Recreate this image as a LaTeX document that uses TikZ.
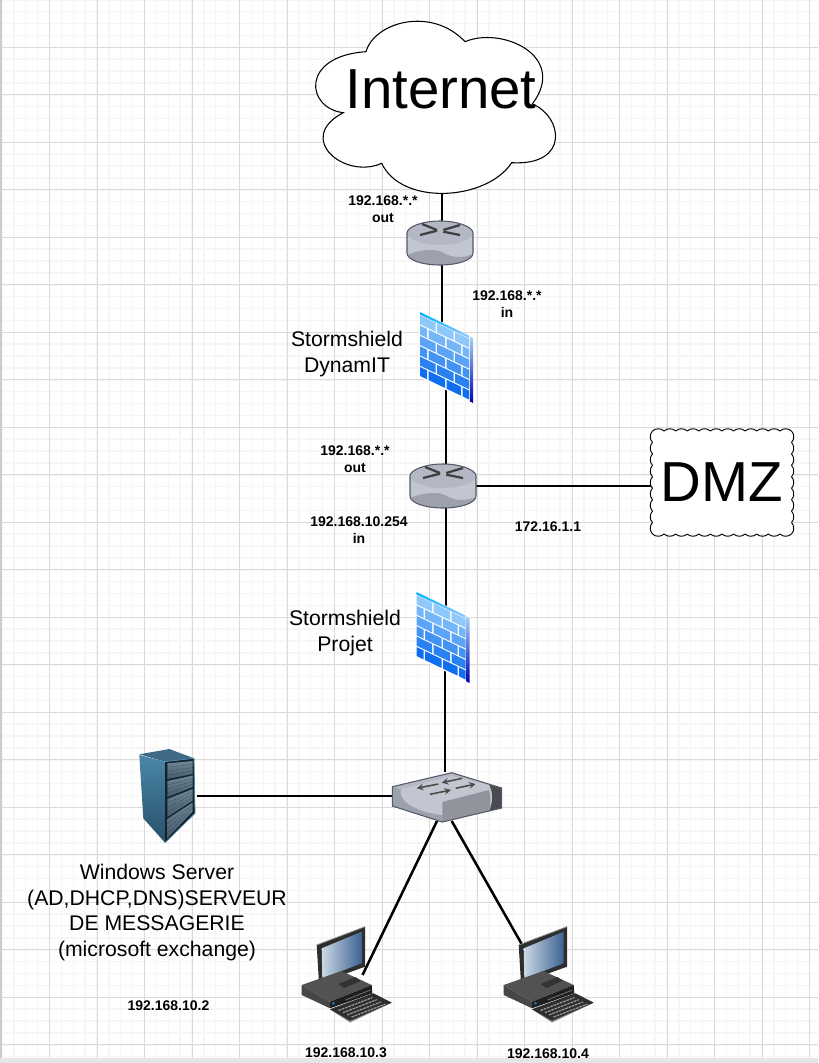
\documentclass[tikz,border=0pt]{standalone}
\usepackage{fontspec}
\setmainfont{Liberation Sans}
\usetikzlibrary{backgrounds}
\def\pxu{.75pt}
\definecolor{gridmajor}{HTML}{DADADA}
\definecolor{gridminor}{HTML}{F6F6F6}
\definecolor{rtrface}{HTML}{C2C6D1}
\definecolor{rtrtop}{HTML}{B4B8C5}
\definecolor{rtrdark}{HTML}{9DA1AE}
\definecolor{rtredge}{HTML}{565A68}
\definecolor{fwlight}{HTML}{8FC8FB}
\definecolor{fwdeep}{HTML}{0F6FF0}
\definecolor{srvtop}{HTML}{3F6A85}
\definecolor{srvupper}{HTML}{4B87A8}
\definecolor{srvmid}{HTML}{0B1720}
\definecolor{srvlower}{HTML}{26506A}
\definecolor{srvpanel}{HTML}{14222C}
\definecolor{srvbaya}{HTML}{6E8696}
\definecolor{srvbayb}{HTML}{445B6B}
\definecolor{scrlight}{HTML}{CBD8E6}
\definecolor{scrdeep}{HTML}{3D6391}
\tikzset{
  link/.style={line width=1.9pt,draw=black},
  bigtext/.style={inner sep=0pt,font=\fontsize{42.3}{50}\selectfont},
  midtext/.style={inner sep=0pt,align=center,font=\fontsize{15.9}{19.1}\selectfont},
  iptext/.style={inner sep=0pt,align=center,font=\bfseries\fontsize{10.5}{12.75}\selectfont},
  pics/cloudshape/.style={code={
    \node (-box) [minimum width=240*\pxu,minimum height=172*\pxu,inner sep=0pt] {};
    \coordinate (-port) at (5.5,86);
    \draw [fill=white,draw=black,line width=.8pt]
      (-70.5,-54.3) .. controls (-62,-84) and (-5,-100) .. (28.5,-64.3)
      .. controls (65,-80) and (132,-50) .. (95.8,-2)
      .. controls (126,10) and (134,60) .. (75.2,56.7)
      .. controls (50,95) and (-35,100) .. (-54.8,57.3)
      .. controls (-92,74) and (-142,32) .. (-93.2,6.7)
      .. controls (-131,2) and (-136,-50) .. (-70.5,-54.3) -- cycle;
  }},
  pics/dmzshape/.style={code={
    \fill [white] (-69.5,-51.5) rectangle (69.5,51.5);
    \foreach \i in {0,...,11} {
      \draw [line width=.7pt] (-69.5+\i*11.58,-51.5) .. controls (-66.5+\i*11.58,-54.5) and (-61+\i*11.58,-54.5) .. (-57.92+\i*11.58,-51.5);
      \draw [line width=.7pt] (-69.5+\i*11.58,51.5) .. controls (-66.5+\i*11.58,54.5) and (-61+\i*11.58,54.5) .. (-57.92+\i*11.58,51.5);
    }
    \foreach \i in {0,...,8} {
      \draw [line width=.7pt] (-69.5,-51.5+\i*11.44) .. controls (-72.5,-48.5+\i*11.44) and (-72.5,-43+\i*11.44) .. (-69.5,-40.06+\i*11.44);
      \draw [line width=.7pt] (69.5,-51.5+\i*11.44) .. controls (72.5,-48.5+\i*11.44) and (72.5,-43+\i*11.44) .. (69.5,-40.06+\i*11.44);
    }
    \node (-box) [minimum width=142*\pxu,minimum height=107*\pxu,inner sep=0pt,font=\fontsize{42.3}{50}\selectfont] {DMZ};
  }},
  pics/rtr/.style={code={
    \node (-box) [minimum width=66*\pxu,minimum height=44*\pxu,inner sep=0pt] {};
    \fill [rtrface] (-33,-10) .. controls (-33,-16) and (-18,-22) .. (0,-22)
      .. controls (18,-22) and (33,-16) .. (33,-10) -- (33,10)
      .. controls (33,17) and (18,22) .. (0,22)
      .. controls (-18,22) and (-33,17) .. (-33,10) -- cycle;
    \fill [rtrtop] (-33,-10) .. controls (-33,-16) and (-18,-22) .. (0,-22)
      .. controls (18,-22) and (33,-16) .. (33,-10)
      .. controls (33,-4) and (18,2) .. (0,2)
      .. controls (-18,2) and (-33,-4) .. (-33,-10) -- cycle;
    \fill [rtrdark] (-33,12) .. controls (-26,9) and (-18,7) .. (-8,7)
      .. controls (3,7) and (6,14) .. (18,14) .. controls (24,14) and (29,13) .. (33,11)
      .. controls (33,17) and (18,22) .. (0,22)
      .. controls (-18,22) and (-33,17) .. (-33,10) -- cycle;
    \draw [rtredge,line width=.8pt] (-33,-10) .. controls (-33,-16) and (-18,-22) .. (0,-22)
      .. controls (18,-22) and (33,-16) .. (33,-10) -- (33,10)
      .. controls (33,17) and (18,22) .. (0,22)
      .. controls (-18,22) and (-33,17) .. (-33,10) -- cycle;
    \foreach \ax/\ay/\bx/\by in {-18/-19/-3/-13,-3/-12.3/-20/-8,3.3/-13/20/-18,20/-8/3.3/-11.3}
      \draw [line width=1.7pt,draw=black!75] (\ax,\ay) -- (\bx,\by);
  }},
  pics/fwall/.style={code={
    \node (-box) [minimum width=53*\pxu,minimum height=90*\pxu,inner sep=0pt] {};
    \begin{scope}[yslant=-.48]
      \fill [white] (-27,-33) rectangle (27.5,33);
      \shade [left color=cyan!70!blue,right color=fwlight] (-26,-32.5) rectangle (23,-30);
      \shade [top color=fwlight!80!white,bottom color=blue!70!black] (23.8,-32) rectangle (27,33);
      \foreach \r in {0,2,4} {
        \pgfmathsetmacro\m{int(\r*20)}
        \foreach \ua/\ub in {-26/-10.5,-9/7.5,9/23}
          \fill [fwdeep!\m!fwlight] (\ua,-29.3+\r*10.35) rectangle (\ub,-20.3+\r*10.35);
      }
      \foreach \r in {1,3,5} {
        \pgfmathsetmacro\m{int(\r*20)}
        \foreach \ua/\ub in {-26/-19,-17.5/-1,.5/15,16.5/23}
          \fill [fwdeep!\m!fwlight] (\ua,-29.3+\r*10.35) rectangle (\ub,-20.3+\r*10.35);
      }
    \end{scope}
  }},
  pics/swtch/.style={code={
    \node (-box) [minimum width=110*\pxu,minimum height=50*\pxu,inner sep=0pt] {};
    \coordinate (-pa) at (-10,24);
    \coordinate (-pb) at (4.7,24);
    \fill [rtrdark] (4.7,-24.3) -- (54.7,-9) -- (54.7,11) -- (-4.7,25) -- (-54.7,9) -- (-54.7,-10.3) -- cycle;
    \fill [rtrtop] (4.7,-24.3) -- (54.7,-9) -- (42,-6) -- (-48,-8) -- (-54.7,-10.3) -- cycle;
    \fill [black!62!rtrface] (54.7,-9) -- (54.7,11) -- (42,14) .. controls (46,4) and (46,-4) .. (42,-12) -- cycle;
    \fill [rtrface] (-46,-8) -- (4.7,-21) -- (42,-12) .. controls (46,-4) and (46,4) .. (42,14)
      -- (-4.7,18) .. controls (-25,16) and (-50,6) .. (-46,-8) -- cycle;
    \fill [black!25!rtrface] (-4.7,5) -- (42,-7) .. controls (44,0) and (44,6) .. (42,14) -- (-4.7,25) -- cycle;
    \draw [rtredge,line width=.8pt] (4.7,-24.3) -- (54.7,-9) -- (54.7,11) -- (-4.7,25) -- (-54.7,9) -- (-54.7,-10.3) -- cycle;
    \foreach \ax/\ay/\bx/\by in {-8.7/-13/-30.3/-8.7,15.3/-18.7/-5.3/-14.3,-17/-2.7/4/-7,8.7/-8.7/28.7/-13}
      \draw [-stealth,line width=1.2pt,draw=black!70] (\ax,\ay) -- (\bx,\by);
  }},
  pics/srv/.style={code={
    \node (-box) [minimum width=59*\pxu,minimum height=94*\pxu,inner sep=0pt] {};
    \fill [srvtop] (-27.7,-41.7) -- (2.3,-47) -- (27,-37.7) -- (-2,-34.3) -- cycle;
    \shade [top color=srvupper,middle color=srvmid,bottom color=srvlower]
      (-27.7,-41) -- (-2,-34.3) -- (-2,46.7) -- (-23.7,22.3) -- cycle;
    \fill [srvpanel] (-2,-34.3) -- (27,-37.7) -- (28,17.3) -- (-2,46.7) -- cycle;
    \draw [srvupper,line width=.6pt] (-2,-34.3) -- (27,-37.7) -- (28,17.3) -- (-2,46.7);
    \foreach \la/\lb/\ra/\rb in {-32.7/-17/-35/-22,-15/1/-20.5/-9,3/21/-7/4.5,23/42/6.5/15.5} {
      \shade [top color=srvbaya,bottom color=srvbayb]
        (.3,\la) -- (25.7,\ra) -- (25.7,\rb) -- (.3,\lb) -- cycle;
      \foreach \t in {.25,.5,.75}
        \draw [srvpanel,line width=.35pt,densely dotted]
          (.3,{\la+\t*(\lb-\la)}) -- (25.7,{\ra+\t*(\rb-\ra)});
    }
  }},
  pics/pcbox/.style={code={
    \node (-box) [minimum width=91*\pxu,minimum height=96*\pxu,inner sep=0pt] {};
    \coordinate (-port) at (16,1);
    \coordinate (-back) at (-24,-25);
    \fill [black!65] (-8,10) -- (9,3) -- (9,13) -- (-5,19) -- cycle;
    \fill [black!82] (-29.8,-29) -- (18.5,-47.3) -- (18.5,-7.3) -- (-27.5,9.3) -- cycle;
    \draw [black!45,line width=.6pt] (-29.8,-29) -- (18.5,-47.3);
    \shade [left color=scrlight,right color=scrdeep]
      (-24.8,-25.7) -- (15.2,-42.3) -- (15.2,-10.7) -- (-24.2,4.3) -- cycle;
    \fill [black!72] (-44.8,21) -- (-44.8,11) -- (-16.5,27.7) -- (-16.5,34.3) -- cycle;
    \fill [black!68] (-44.8,11) -- (-5,-3) -- (25.2,11) -- (-16.5,27.7) -- cycle;
    \fill [black!88] (-16.5,27.7) -- (25.2,11) -- (25.8,19.3) -- (-16.5,34.3) -- cycle;
    \fill [black!80] (-8,10) -- (9,3) -- (14,7) -- (-2,14) -- cycle;
    \draw [black!55,line width=.6pt] (-1,26) -- (24,16);
    \fill [cyan!50!blue] (-13,29.3) circle (1.6);
    \fill [black!45] (-16.5,35.3) -- (26.8,19.3) -- (45.2,28.7) -- (3.5,48.5) -- cycle;
    \fill [black!82] (-16.5,35.3) -- (26.8,19.3) -- (45.2,28.7) -- (3.5,46.7) -- cycle;
    \foreach \k in {0,...,3}
      \draw [black!40,line width=.9pt,dash pattern=on 2pt off .6pt]
        (-8+\k*4.3,36.5+\k*2.2) -- (26+\k*4.3,23.5+\k*2.2);
  }}
}
\begin{document}
\begin{tikzpicture}[x=.75pt,y=-.75pt]
        \useasboundingbox (0,0) rectangle (818,1063);
        \pic (cloud) at (436.5,106) {cloudshape};
        \node (internet) [bigtext] at (441,89) {Internet};
        \pic (rtrA) at (440,243) {rtr};
        \pic (fwA) at (446,357) {fwall};
        \pic (rtrB) at (443,486) {rtr};
        \pic (fwB) at (442.5,637) {fwall};
        \pic (sw) at (447,797) {swtch};
        \pic (srv) at (167,796) {srv};
        \pic (pcA) at (346.5,974) {pcbox};
        \pic (pcB) at (548.5,974) {pcbox};
        \pic (dmz) at (722,482.5) {dmzshape};
        \node (lblA) [iptext] at (383,209.5) {192.168.*.*\\out};
        \node (lblB) [iptext] at (507,304.5) {192.168.*.*\\in};
        \node (lblC) [midtext] at (347,354) {Stormshield\\DynamIT};
        \node (lblD) [iptext] at (355,459.5) {192.168.*.*\\out};
        \node (lblE) [iptext] at (359,530.5) {192.168.10.254\\in};
        \node (lblF) [iptext] at (548,527) {172.16.1.1};
        \node (lblG) [midtext] at (345,633) {Stormshield\\Projet};
        \node (lblH) [midtext] at (157,912.5) {Windows Server\\(AD,DHCP,DNS)SERVEUR\\DE MESSAGERIE\\(microsoft exchange)};
        \node (lblI) [iptext] at (168.5,1006) {192.168.10.2};
        \node (lblJ) [iptext] at (346,1053) {192.168.10.3};
        \node (lblK) [iptext] at (548,1054) {192.168.10.4};
        \begin{scope}[on background layer]
          \foreach \i in {0,...,68}
            \draw [gridminor,line width=1.1pt] (2+\i*11.875,0) -- (2+\i*11.875,1058);
          \foreach \j in {0,...,89}
            \draw [gridminor,line width=1.1pt] (2,-.2+\j*11.875) -- (818,-.2+\j*11.875);
          \foreach \i in {1,...,17}
            \draw [gridmajor,line width=.75pt] (2+\i*47.5,0) -- (2+\i*47.5,1058);
          \foreach \j in {1,...,22}
            \draw [gridmajor,line width=.75pt] (2,-.2+\j*47.5) -- (818,-.2+\j*47.5);
          \fill [black!20] (0,0) rectangle (1.6,1058);
          \fill [black!10] (0,1058) rectangle (818,1063);
          \path (cloud-port) edge [link] (cloud-port |- rtrA-box.north);
          \path (cloud-port |- rtrA-box.south) edge [link] (cloud-port |- fwA-box.center);
          \path ([xshift=3*\pxu]rtrB-box.north |- fwA-box.center) edge [link] ([xshift=3*\pxu]rtrB-box.north);
          \path ([xshift=3*\pxu]rtrB-box.south) edge [link] ([xshift=3*\pxu]rtrB-box.south |- fwB-box.center);
          \path ([xshift=-2*\pxu]sw-box.north |- fwB-box.center) edge [link] ([xshift=-2*\pxu]sw-box.north);
          \path (rtrB-box.east) edge [link] (rtrB-box.east -| dmz-box.west);
          \path (srv-box.east) edge [link] (srv-box.east -| sw-box.west);
          \path (sw-pa) edge [link] (pcA-port);
          \path (sw-pb) edge [link] (pcB-back);
        \end{scope}
      \end{tikzpicture}
\end{document}
